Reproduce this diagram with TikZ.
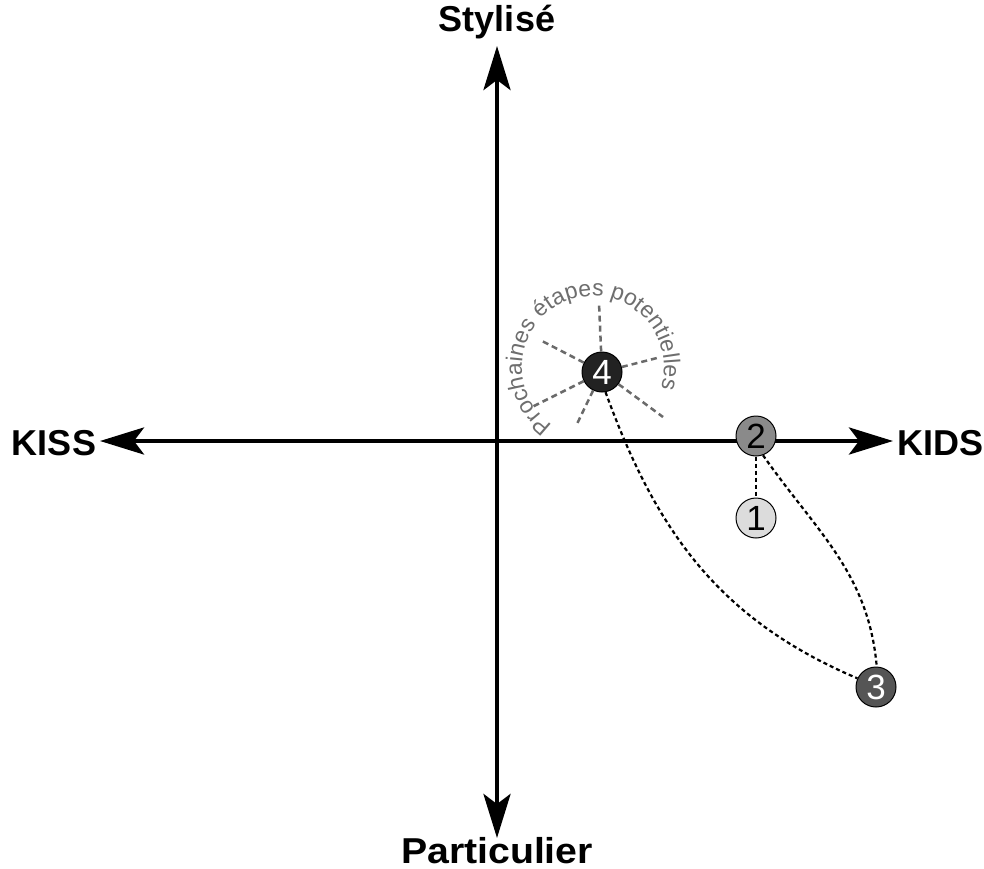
\documentclass[tikz,border=0pt]{standalone}
\usepackage{fontspec}
\setmainfont{Liberation Sans}
\usetikzlibrary{arrows.meta,decorations.text}
\definecolor{spokegray}{HTML}{6A6A6A}
\definecolor{arcgray}{HTML}{6E6E6E}
\definecolor{cone}{HTML}{DCDCDC}
\definecolor{ctwo}{HTML}{8A8A8A}
\definecolor{cthree}{HTML}{555555}
\definecolor{cfour}{HTML}{222222}
\begin{document}
\begin{tikzpicture}[x=1pt,y=1pt,
  ax/.style={line width=4.5pt, {Stealth[length=44pt,width=27pt,inset=10pt]}-{Stealth[length=44pt,width=27pt,inset=10pt]}},
  axlabel/.style={font=\fontsize{36}{40}\selectfont\bfseries, inner sep=0pt},
  num/.style={circle, draw=black, line width=1pt, minimum size=40pt, inner sep=0pt, font=\fontsize{35}{36}\selectfont},
  link/.style={black, line width=2.2pt, dash pattern=on 4pt off 3pt},
  spk/.style={spokegray, line width=2.5pt, dash pattern=on 6pt off 4pt}]
\fill[white] (0,0) rectangle (984,-869);
\useasboundingbox (0,0) rectangle (984,-869);
% axis ends
\coordinate (tN) at (497,-46);
\coordinate (tS) at (497,-838);
\coordinate (tW) at (100,-441);
\coordinate (tE) at (893,-441);
\draw[ax] (tS) -- (tN);
\draw[ax] (tW) -- (tE);
% labels
\node[axlabel, anchor=base] (lN) at (497,-32) {Stylisé};
\node[axlabel, anchor=base] (lW) at (54,-455) {KISS};
\node[axlabel, anchor=base] (lE) at (940,-455) {KIDS};
\node[axlabel, anchor=base] (lS) at (497,-863) {\scalebox{1.09}[1]{Particulier}};
% nodes
\node[num, fill=cfour, text=white] (n4) at (602,-372) {4};
\node[num, fill=ctwo] (n2) at (756,-436) {2};
\node[num, fill=cone] (n1) at (756,-518) {1};
\node[num, fill=cthree, text=white] (n3) at (876,-687) {3};
% spokes
\coordinate (s1) at (599,-303);
\coordinate (s2) at (542,-341);
\coordinate (s3) at (657,-358);
\coordinate (s4) at (532,-407);
\coordinate (s5) at (663,-417);
\coordinate (s6) at (576,-426);
\foreach \s in {s1,s2,s3,s4,s5,s6} \draw[spk] (n4) -- (\s);
% arc text
\path[decorate, decoration={text along path, text align=center,
  text={|\color{arcgray}\fontsize{23}{24}\selectfont|Prochaines étapes potentielles}}]
  (593,-367) ++(254:71) arc[start angle=254, end angle=-36, radius=71];
% links
\draw[link] (n2) -- (n1);
\draw[link] (n2.-70) to[out=-55, in=95] (n3.88);
\draw[link] (n4.-80) to[out=-70, in=157] (n3.155);
\end{tikzpicture}
\end{document}
